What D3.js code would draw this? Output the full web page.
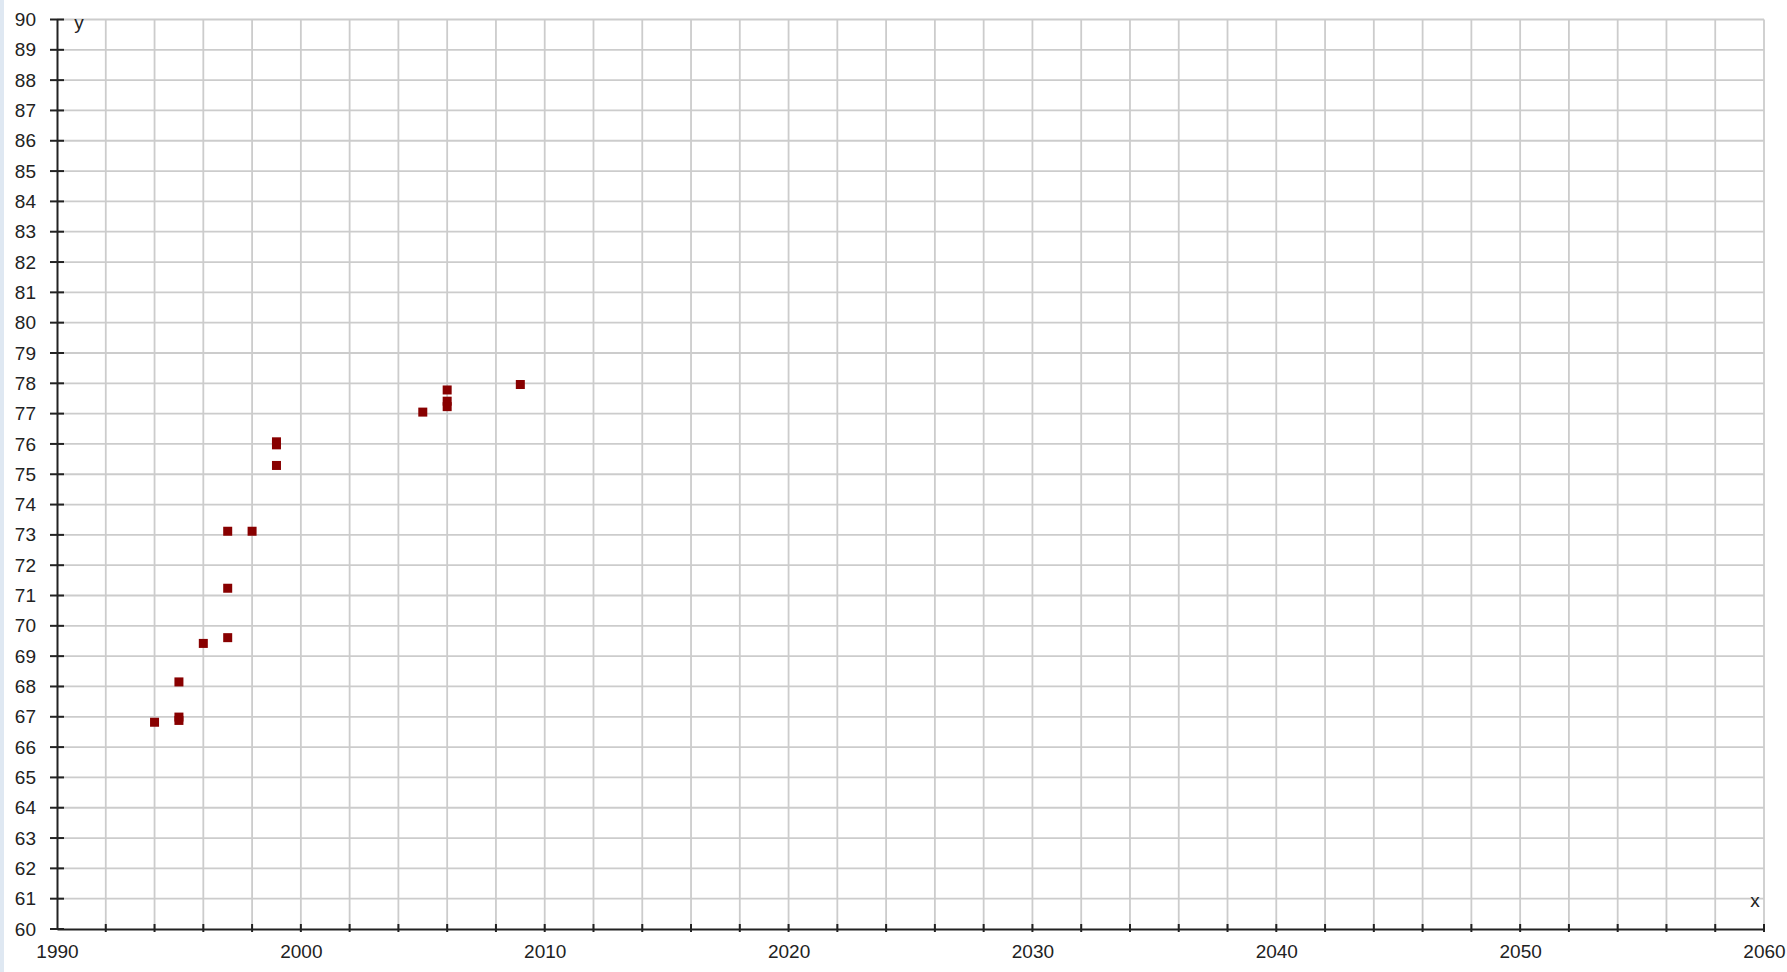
<!DOCTYPE html>
<html>
<head>
<meta charset="utf-8">
<script src="https://cdn.jsdelivr.net/npm/d3@7"></script>
<style>
  html, body { margin: 0; padding: 0; background: #fff; }
  svg { display: block; }
</style>
</head>
<body>
<svg id="chart"></svg>
<script>
// data: year, value
const years  = [1994, 1995, 1995, 1995, 1996, 1997, 1997, 1997, 1998, 1999, 1999, 1999, 2005, 2006, 2006, 2006, 2009];
const values = [66.82, 66.99, 66.88, 68.15, 69.42, 69.61, 71.24, 73.12, 73.12, 75.29, 76.07, 75.97, 77.05, 77.78, 77.41, 77.23, 77.96];

const xDomain = [1990, 2060];
const yDomain = [60, 90];
const xLabelTicks = [1990, 2000, 2010, 2020, 2030, 2040, 2050, 2060];

const W = 1787, H = 972;
const margin = { top: 19.5, right: 23, bottom: 43, left: 57 };
const width = W - margin.left - margin.right;
const height = H - margin.top - margin.bottom;

const svg = d3.select("#chart")
    .attr("width", W)
    .attr("height", H);

// light window edge on the left
svg.append("rect")
    .attr("x", 0).attr("y", 0)
    .attr("width", 4).attr("height", H)
    .attr("fill", "#dfe8f2");

const g = svg.append("g")
    .attr("transform", `translate(${margin.left},${margin.top})`);

const x = d3.scaleLinear().domain(xDomain).range([0, width]);
const y = d3.scaleLinear().domain(yDomain).range([height, 0]);

const xGrid = d3.range(xDomain[0], xDomain[1] + 1, 2);
const yGrid = d3.range(yDomain[0], yDomain[1] + 1, 1);

// grid
g.append("g")
    .selectAll("line")
    .data(xGrid.filter(d => d > xDomain[0]))
    .join("line")
    .attr("x1", d => x(d)).attr("x2", d => x(d))
    .attr("y1", 0).attr("y2", height)
    .attr("stroke", "#cccccc")
    .attr("stroke-width", 1.8);

g.append("g")
    .selectAll("line")
    .data(yGrid.filter(d => d > yDomain[0]))
    .join("line")
    .attr("x1", 0).attr("x2", width)
    .attr("y1", d => y(d)).attr("y2", d => y(d))
    .attr("stroke", "#cccccc")
    .attr("stroke-width", 1.8);

// y axis
const yAxis = g.append("g")
    .call(d3.axisLeft(y).tickValues(yGrid).tickFormat(d3.format("d")).tickSize(0).tickPadding(21));
yAxis.select(".domain").attr("stroke", "#222").attr("stroke-width", 2);
yAxis.selectAll("text")
    .attr("fill", "#222")
    .style("font-family", "'Liberation Sans', Arial, sans-serif")
    .style("font-size", "19px");

g.append("g")
    .selectAll("line")
    .data(yGrid)
    .join("line")
    .attr("x1", -7).attr("x2", 7)
    .attr("y1", d => y(d)).attr("y2", d => y(d))
    .attr("stroke", "#222")
    .attr("stroke-width", 2);

// x axis
const xAxis = g.append("g")
    .attr("transform", `translate(0,${height})`)
    .call(d3.axisBottom(x).tickValues(xLabelTicks).tickFormat(d3.format("d")).tickSize(0).tickPadding(16));
xAxis.select(".domain").attr("stroke", "#222").attr("stroke-width", 2);
xAxis.selectAll("text")
    .attr("fill", "#222")
    .style("font-family", "'Liberation Sans', Arial, sans-serif")
    .style("font-size", "19px");

g.append("g")
    .selectAll("line")
    .data(xGrid.filter(d => d > xDomain[0]))
    .join("line")
    .attr("x1", d => x(d)).attr("x2", d => x(d))
    .attr("y1", height - 5).attr("y2", height + 3)
    .attr("stroke", "#222")
    .attr("stroke-width", 2);

// axis names
g.append("text")
    .attr("x", 22)
    .attr("y", 9)
    .attr("text-anchor", "middle")
    .style("font-family", "'Liberation Sans', Arial, sans-serif")
    .style("font-size", "19px")
    .attr("fill", "#222")
    .text("y");

g.append("text")
    .attr("x", width - 9)
    .attr("y", height - 22)
    .attr("text-anchor", "middle")
    .style("font-family", "'Liberation Sans', Arial, sans-serif")
    .style("font-size", "19px")
    .attr("fill", "#222")
    .text("x");

// points
const pts = years.map((yr, i) => ({ year: yr, value: values[i] }));
const s = 9;
g.append("g")
    .selectAll("rect")
    .data(pts)
    .join("rect")
    .attr("x", d => x(d.year) - s / 2)
    .attr("y", d => y(d.value) - s / 2)
    .attr("width", s)
    .attr("height", s)
    .attr("fill", "#880000");
</script>
</body>
</html>
